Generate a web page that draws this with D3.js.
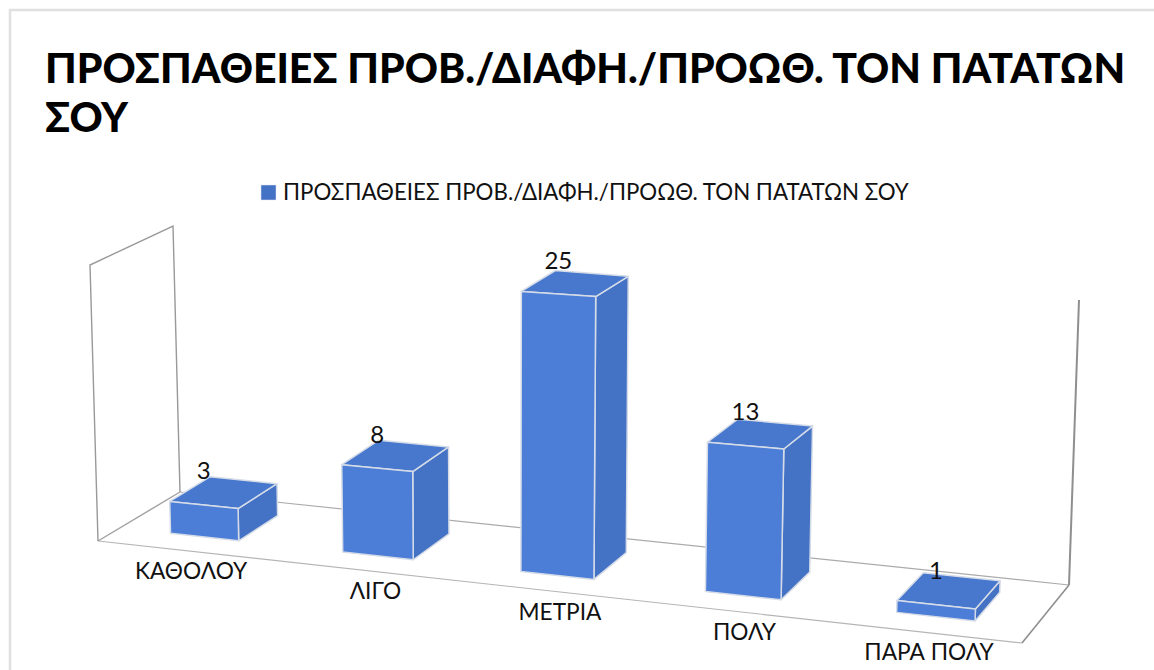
<!DOCTYPE html>
<html>

<head>
    <meta charset="utf-8">
    <style>
        html, body {
            margin: 0;
            padding: 0;
            background: #fff;
            overflow: hidden;
        }

        svg {
            display: block;
            font-family: Lato, 'Open Sans', sans-serif;
        }
    </style>
</head>

<body>
    <svg width="1154" height="670"></svg>
</body>

<script src="https://d3js.org/d3.v7.min.js"></script>

<script>
    const chartTitle = ["ΠΡΟΣΠΑΘΕΙΕΣ ΠΡΟΒ./ΔΙΑΦΗ./ΠΡΟΩΘ. ΤΟΝ ΠΑΤΑΤΩΝ", "ΣΟΥ"]
    const seriesName = "ΠΡΟΣΠΑΘΕΙΕΣ ΠΡΟΒ./ΔΙΑΦΗ./ΠΡΟΩΘ. ΤΟΝ ΠΑΤΑΤΩΝ ΣΟΥ"
    const categories = ["ΚΑΘΟΛΟΥ", "ΛΙΓΟ", "ΜΕΤΡΙΑ", "ΠΟΛΥ", "ΠΑΡΑ ΠΟΛΥ"]
    const values = [3, 8, 25, 13, 1]

    let svg = d3.select("svg")

    // floor of the 3d box: u runs along the categories, v goes into the picture
    let floor = { x00: 98, y00: 541, x10: 1022, y10: 643, x11: 1069, y11: 585, x01: 180, y01: 492 }

    let sx = floor.x00 - floor.x10 + floor.x11 - floor.x01
    let sy = floor.y00 - floor.y10 + floor.y11 - floor.y01
    let dx1 = floor.x10 - floor.x11
    let dx2 = floor.x01 - floor.x11
    let dy1 = floor.y10 - floor.y11
    let dy2 = floor.y01 - floor.y11
    let den = dx1 * dy2 - dx2 * dy1
    let g = (sx * dy2 - dx2 * sy) / den
    let h = (dx1 * sy - sx * dy1) / den
    let a = floor.x10 - floor.x00 + g * floor.x10
    let b = floor.x01 - floor.x00 + h * floor.x01
    let d = floor.y10 - floor.y00 + g * floor.y10
    let e = floor.y01 - floor.y00 + h * floor.y01

    // how far a full height goes on screen at each floor corner
    // walls and bars do not share quite the same vertical stretch
    let wallUp = { x00: -8, y00: -276, x10: 10, y10: -325, x11: 10, y11: -285, x01: -7, y01: -266 }
    let barUp = { x00: -8, y00: -274, x10: 10, y10: -318, x11: 10, y11: -292, x01: -7, y01: -275 }

    function mix(o, key, u, v) {
        return (1 - u) * (1 - v) * o[key + "00"] + u * (1 - v) * o[key + "10"] +
            u * v * o[key + "11"] + (1 - u) * v * o[key + "01"]
    }

    let uScale = d3.scaleBand().domain(categories).range([0, 1]).paddingInner(0.6).paddingOuter(0.3)
    let vScale = d3.scaleBand().domain([seriesName]).range([0, 1]).padding(1 / 3).align(0.52)
    let heightScale = d3.scaleLinear().domain([0, 26]).range([0, 1])

    // the labels under the floor sit on their own straight line
    let labelX = d3.scalePoint().domain(categories).range([191, 929])
    let labelY = d3.scalePoint().domain(categories).range([571, 652])

    function project(u, v, value, up = barUp) {
        let w = g * u + h * v + 1
        let t = heightScale(value)
        return [
            (a * u + b * v + floor.x00) / w + t * mix(up, "x", u, v),
            (d * u + e * v + floor.y00) / w + t * mix(up, "y", u, v)
        ]
    }

    let line = d3.line()

    // outer border of the chart
    svg.append("path")
        .attr("d", "M10,670V10H1154")
        .style("fill", "none")
        .style("stroke", "#e0e0e0")
        .style("stroke-width", 2.5)

    // title
    svg.selectAll(".title")
        .data(chartTitle)
        .join("text")
        .attr("class", "title")
        .attr("x", 45)
        .attr("y", (t, i) => 83 + i * 49)
        .style("font-size", "41px")
        .style("font-weight", 900)
        .text(t => t)

    // legend
    svg.append("rect")
        .attr("x", 261)
        .attr("y", 185)
        .attr("width", 15)
        .attr("height", 15)
        .style("fill", "#4472c4")
        .style("stroke", "#dfe6f3")
        .style("stroke-width", 0.5)

    svg.append("text")
        .attr("x", 283)
        .attr("y", 200)
        .style("font-size", "22.3px")
        .style("fill", "#111")
        .text(seriesName)

    // walls and floor
    let wallMax = heightScale.domain()[1]

    let frameLines = [
        { pts: [[0, 0, 0], [1, 0, 0]], color: "#b5b5b5", width: 1.2 },
        { pts: [[0, 1, 0], [1, 1, 0]], color: "#ababab", width: 1.2 },
        { pts: [[0, 1, 0], [0, 0, 0]], color: "#a0a0a0", width: 1.4 },
        { pts: [[1, 0, 0], [1, 1, 0]], color: "#8f8f8f", width: 1.6 },
        { pts: [[0, 1, 0], [0, 1, wallMax], [0, 0, wallMax], [0, 0, 0]], color: "#999", width: 1.4 },
        { pts: [[1, 1, 0], [1, 1, wallMax]], color: "#8f8f8f", width: 2 }
    ]

    svg.selectAll(".frame")
        .data(frameLines)
        .join("path")
        .attr("class", "frame")
        .attr("d", f => line(f.pts.map(p => project(p[0], p[1], p[2], wallUp))))
        .style("fill", "none")
        .style("stroke", f => f.color)
        .style("stroke-width", f => f.width)

    // bars
    let rows = categories.map((c, i) => {
        let u0 = uScale(c)
        let u1 = u0 + uScale.bandwidth()
        let v0 = vScale(seriesName)
        let v1 = v0 + vScale.bandwidth()
        return { c, value: values[i], u0, u1, v0, v1 }
    })

    let bars = svg.selectAll(".bar")
        .data(rows)
        .join("g")
        .attr("class", "bar")

    let faces = [
        {
            color: "#4472c4", pts: r => [[r.u1, r.v0, 0], [r.u1, r.v1, 0], [r.u1, r.v1, r.value], [r.u1, r.v0, r.value]]
        },
        {
            color: "#4778cd", pts: r => [[r.u0, r.v0, r.value], [r.u1, r.v0, r.value], [r.u1, r.v1, r.value], [r.u0, r.v1, r.value]]
        },
        {
            color: "#4c7ed8", pts: r => [[r.u0, r.v0, 0], [r.u1, r.v0, 0], [r.u1, r.v0, r.value], [r.u0, r.v0, r.value]]
        }
    ]

    faces.forEach(face => {
        bars.append("path")
            .attr("d", r => line(face.pts(r).map(p => project(p[0], p[1], p[2]))) + "Z")
            .style("fill", face.color)
            .style("stroke", "#d5dce8")
            .style("stroke-width", 1.5)
            .style("stroke-linejoin", "round")
    })

    // value labels
    svg.selectAll(".value")
        .data(rows)
        .join("text")
        .attr("class", "value")
        .attr("x", r => project((r.u0 + r.u1) / 2, r.v0, r.value)[0])
        .attr("y", r => project(r.u0, r.v0, r.value)[1] - 22)
        .attr("text-anchor", "middle")
        .style("font-size", "24px")
        .style("fill", "#111")
        .text(r => r.value)

    // category labels
    svg.selectAll(".category")
        .data(categories)
        .join("text")
        .attr("class", "category")
        .attr("x", c => labelX(c))
        .attr("y", c => labelY(c) + 8)
        .attr("text-anchor", "middle")
        .style("font-size", "22.7px")
        .style("fill", "#111")
        .text(c => c)
</script>

</html>
